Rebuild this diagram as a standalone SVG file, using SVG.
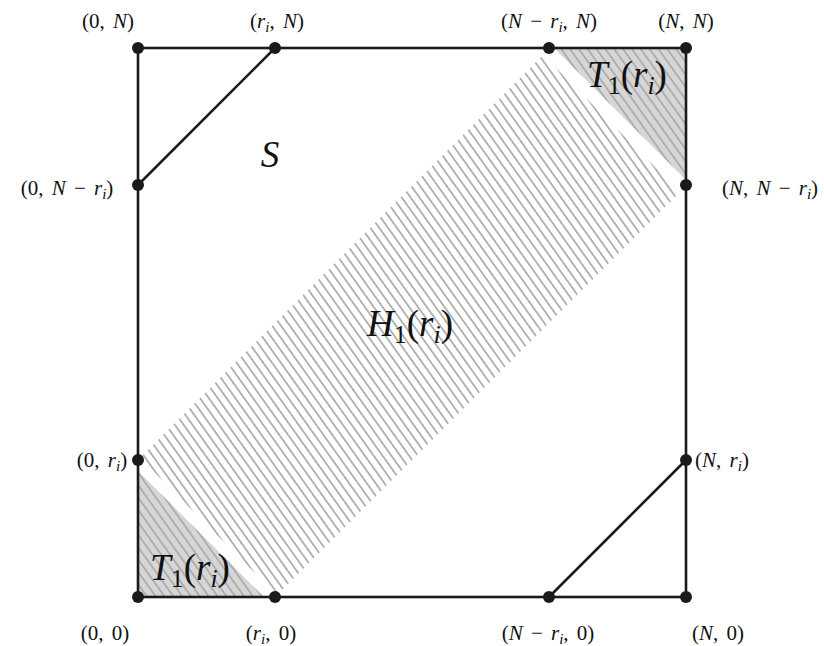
<svg xmlns="http://www.w3.org/2000/svg" width="824" height="646" viewBox="0 0 824 646">
<style>
.lbl{font-family:"Liberation Serif","DejaVu Serif",serif;font-size:21px;fill:#111;text-anchor:middle;word-spacing:3px}
.big{font-family:"Liberation Serif","DejaVu Serif",serif;font-size:37px;fill:#111;text-anchor:middle}
.it{font-style:italic}
.sub{font-size:15px}
.bsub{font-size:26px}
.edge{stroke:#1a1a1a;stroke-width:2.6;fill:none;stroke-linecap:round}
.dot{fill:#1a1a1a}
</style>
<defs>
<pattern id="hatch" patternUnits="userSpaceOnUse" width="7.2" height="20" patternTransform="rotate(-35.5)">
<line x1="3.6" y1="-2" x2="3.6" y2="22" stroke="#aaaaaa" stroke-width="1.7"/>
</pattern>
</defs>
<rect width="824" height="646" fill="#fff"/>
<g id="regions">
<polygon id="T1-bottom" points="138,471 138,597 264,597" fill="#d6d6d6"/>
<polygon points="138,471 138,597 264,597" fill="url(#hatch)"/>
<polygon id="T1-top" points="554,48 686,48 686,180" fill="#d6d6d6"/>
<polygon points="554,48 686,48 686,180" fill="url(#hatch)"/>
<polygon id="H1-band" points="140,458 543,55 680,192 277,595" fill="url(#hatch)"/>
</g>
<g id="connectors">
<rect x="138" y="48" width="548" height="549" class="edge"/>
<line x1="138" y1="185" x2="275" y2="48" class="edge"/>
<line x1="549" y1="597" x2="686" y2="460" class="edge"/>
</g>
<g id="points">
<g id="p-0-N"><circle cx="138" cy="48" r="6" class="dot"/><text x="108" y="28" class="lbl">(0, <tspan class="it">N</tspan>)</text></g>
<g id="p-r-N"><circle cx="275" cy="48" r="6" class="dot"/><text x="277" y="28" class="lbl">(<tspan class="it">r</tspan><tspan class="it sub" dy="4">i</tspan><tspan dy="-4">, </tspan><tspan class="it">N</tspan>)</text></g>
<g id="p-Nr-N"><circle cx="549" cy="48" r="6" class="dot"/><text x="549" y="28" class="lbl">(<tspan class="it">N</tspan> − <tspan class="it">r</tspan><tspan class="it sub" dy="4">i</tspan><tspan dy="-4">, </tspan><tspan class="it">N</tspan>)</text></g>
<g id="p-N-N"><circle cx="686" cy="48" r="6" class="dot"/><text x="686" y="28" class="lbl">(<tspan class="it">N</tspan>, <tspan class="it">N</tspan>)</text></g>
<g id="p-0-Nr"><circle cx="138" cy="185" r="6" class="dot"/><text x="67" y="195" class="lbl">(0, <tspan class="it">N</tspan> − <tspan class="it">r</tspan><tspan class="it sub" dy="4">i</tspan><tspan dy="-4">)</tspan></text></g>
<g id="p-N-Nr"><circle cx="686" cy="185" r="6" class="dot"/><text x="770" y="195" class="lbl">(<tspan class="it">N</tspan>, <tspan class="it">N</tspan> − <tspan class="it">r</tspan><tspan class="it sub" dy="4">i</tspan><tspan dy="-4">)</tspan></text></g>
<g id="p-0-r"><circle cx="138" cy="460" r="6" class="dot"/><text x="102" y="467" class="lbl">(0, <tspan class="it">r</tspan><tspan class="it sub" dy="4">i</tspan><tspan dy="-4">)</tspan></text></g>
<g id="p-N-r"><circle cx="686" cy="460" r="6" class="dot"/><text x="722" y="467" class="lbl">(<tspan class="it">N</tspan>, <tspan class="it">r</tspan><tspan class="it sub" dy="4">i</tspan><tspan dy="-4">)</tspan></text></g>
<g id="p-0-0"><circle cx="138" cy="597" r="6" class="dot"/><text x="105" y="640" class="lbl">(0, 0)</text></g>
<g id="p-r-0"><circle cx="275" cy="597" r="6" class="dot"/><text x="271" y="640" class="lbl">(<tspan class="it">r</tspan><tspan class="it sub" dy="4">i</tspan><tspan dy="-4">, 0)</tspan></text></g>
<g id="p-Nr-0"><circle cx="549" cy="597" r="6" class="dot"/><text x="548" y="640" class="lbl">(<tspan class="it">N</tspan> − <tspan class="it">r</tspan><tspan class="it sub" dy="4">i</tspan><tspan dy="-4">, 0)</tspan></text></g>
<g id="p-N-0"><circle cx="686" cy="597" r="6" class="dot"/><text x="718" y="640" class="lbl">(<tspan class="it">N</tspan>, 0)</text></g>
</g>
<g id="labels">
<text id="S" x="270" y="167" class="big it">S</text>
<text id="H1" x="410" y="336" class="big"><tspan class="it">H</tspan><tspan class="bsub" dy="7">1</tspan><tspan dy="-7">(</tspan><tspan class="it">r</tspan><tspan class="it bsub" dy="7">i</tspan><tspan dy="-7">)</tspan></text>
<text id="T1b" x="190" y="580" class="big"><tspan class="it">T</tspan><tspan class="bsub" dy="7">1</tspan><tspan dy="-7">(</tspan><tspan class="it">r</tspan><tspan class="it bsub" dy="7">i</tspan><tspan dy="-7">)</tspan></text>
<text id="T1t" x="627" y="87" class="big"><tspan class="it">T</tspan><tspan class="bsub" dy="7">1</tspan><tspan dy="-7">(</tspan><tspan class="it">r</tspan><tspan class="it bsub" dy="7">i</tspan><tspan dy="-7">)</tspan></text>
</g>
</svg>
